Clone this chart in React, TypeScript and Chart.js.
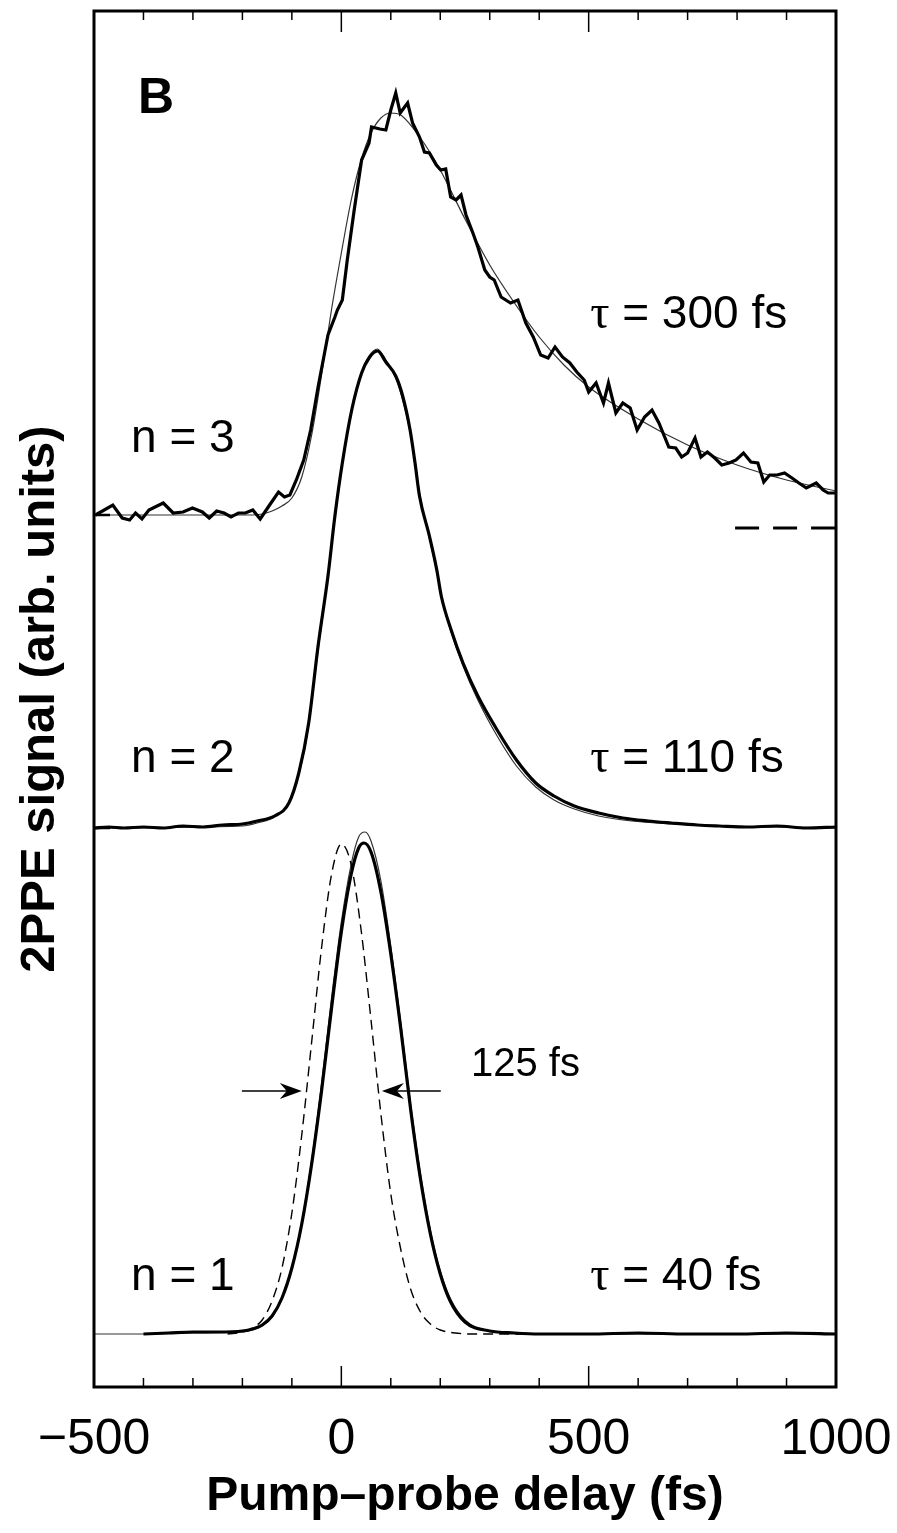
import React, { useEffect, useRef } from 'react';
import { Chart, registerables } from 'chart.js';

Chart.register(...registerables);

// ---- axis ----
const X_MIN = -500;
const X_MAX = 1000;
const Y_MIN = 0;
const Y_MAX = 13.76;
const xTickLabels: Record<number, string> = { [-500]: '\u2212500', 0: '0', 500: '500', 1000: '1000' };
const minorTicks = [-400, -300, -200, -100, 100, 200, 300, 400, 600, 700, 800, 900];
const majorTicks = [0, 500];

// ---- vertical offsets of the three traces (arb. units) ----
const baseN1 = 0.53;
const baseN2 = 5.59;
const baseN3 = 8.72;
const zeroLineN3: [number, number][] = [[796, 8.59], [1000, 8.59]];

// ---- n = 1 (delay fs, signal) ----
const n1Data: [number, number][] = [
  [-400, 0.0], [-350, 0.01], [-300, 0.02], [-250, 0.02], [-200, 0.03], [-180, 0.05], [-160, 0.09],
  [-140, 0.18], [-120, 0.36], [-100, 0.66], [-80, 1.1], [-60, 1.7], [-40, 2.43], [-20, 3.25],
  [0, 4.02], [20, 4.6], [35, 4.86], [46, 4.91], [60, 4.82], [80, 4.42], [100, 3.8], [120, 3.06],
  [140, 2.25], [160, 1.55], [180, 1.0], [200, 0.6], [220, 0.33], [250, 0.12], [300, 0.03],
  [350, 0.01], [400, 0.0], [500, 0.0], [600, 0.01], [700, 0.0], [800, 0.0], [900, 0.01], [1000, 0.0],
];
const n1Fit: [number, number][] = [
  [-500, 0.0], [-400, 0.0], [-300, 0.01], [-200, 0.02], [-180, 0.04], [-160, 0.08], [-140, 0.17],
  [-120, 0.35], [-100, 0.66], [-80, 1.12], [-60, 1.74], [-40, 2.5], [-20, 3.35], [0, 4.12],
  [20, 4.7], [35, 4.97], [48, 5.02], [60, 4.93], [80, 4.53], [100, 3.88], [120, 3.12], [140, 2.3],
  [160, 1.6], [180, 1.04], [200, 0.63], [220, 0.36], [250, 0.14], [300, 0.03], [350, 0.01],
  [400, 0.0], [1000, 0.0],
];
const n1CrossCorr: [number, number][] = [
  [-230, 0.0], [-200, 0.02], [-180, 0.06], [-160, 0.14], [-140, 0.33], [-120, 0.66],
  [-100, 1.21], [-80, 1.99], [-60, 2.92], [-40, 3.86], [-20, 4.59], [0, 4.9], [20, 4.69],
  [40, 4.04], [60, 3.14], [80, 2.2], [100, 1.4], [120, 0.85], [140, 0.45], [160, 0.22],
  [180, 0.1], [200, 0.04], [230, 0.01], [260, 0.0], [400, 0.0],
];

// ---- n = 2 ----
const n2Data: [number, number][] = [
  [-500, 0.0], [-470, 0.01], [-440, 0.0], [-400, 0.01], [-360, 0.0], [-320, 0.02], [-280, 0.01],
  [-240, 0.03], [-200, 0.04], [-170, 0.07], [-135, 0.12], [-106, 0.25], [-86, 0.55], [-66, 1.05],
  [-47, 1.82], [-27, 2.52], [-13, 3.12], [2, 3.65], [21, 4.18], [41, 4.55], [56, 4.7], [73, 4.77],
  [90, 4.66], [110, 4.52], [124, 4.32], [139, 3.98], [149, 3.65], [158, 3.32], [178, 2.92],
  [193, 2.58], [202, 2.32], [222, 1.98], [246, 1.65], [276, 1.32], [315, 0.98], [354, 0.68],
  [393, 0.45], [430, 0.32], [471, 0.22], [520, 0.15], [569, 0.1], [620, 0.07], [667, 0.05],
  [720, 0.03], [764, 0.02], [820, 0.01], [880, 0.02], [940, 0.0], [1000, 0.01],
];
const n2Fit: [number, number][] = [
  [-500, 0.0], [-200, 0.02], [-170, 0.05], [-135, 0.11], [-106, 0.25], [-86, 0.53], [-66, 1.03],
  [-47, 1.78], [-27, 2.52], [-13, 3.1], [2, 3.65], [21, 4.18], [41, 4.56], [56, 4.72], [73, 4.79],
  [90, 4.68], [110, 4.5], [124, 4.28], [139, 3.96], [149, 3.65], [158, 3.35], [178, 2.9],
  [193, 2.56], [202, 2.32], [222, 1.96], [246, 1.62], [276, 1.28], [315, 0.92], [354, 0.62],
  [393, 0.41], [430, 0.28], [471, 0.19], [520, 0.12], [569, 0.08], [667, 0.04], [764, 0.02],
  [880, 0.01], [1000, 0.0],
];

// ---- n = 3 ----
const n3Data: [number, number][] = [
  [-497, 0.0], [-462, 0.1], [-443, -0.03], [-428, -0.05], [-416, 0.02], [-403, -0.04], [-389, 0.05],
  [-360, 0.12], [-340, 0.02], [-320, 0.03], [-301, 0.07], [-281, 0.03], [-267, -0.03], [-252, 0.04],
  [-237, 0.02], [-223, -0.02], [-208, 0.02], [-194, 0.02], [-179, 0.05], [-164, -0.04], [-145, 0.1],
  [-127, 0.23], [-115, 0.18], [-104, 0.2], [-91, 0.35], [-76, 0.55], [-62, 0.85], [-47, 1.28],
  [-27, 1.8], [-13, 1.98], [-8, 2.05], [2, 2.15], [12, 2.55], [26, 3.05], [41, 3.55], [56, 3.72],
  [61, 3.88], [78, 3.86], [90, 3.85], [100, 4.05], [110, 4.22], [119, 4.02], [134, 4.12],
  [144, 3.92], [158, 3.78], [168, 3.63], [178, 3.62], [192, 3.5], [201, 3.45], [211, 3.46],
  [221, 3.18], [232, 3.15], [242, 3.2], [252, 3.0], [266, 2.82], [276, 2.68], [290, 2.45],
  [300, 2.38], [309, 2.35], [323, 2.18], [342, 2.12], [357, 2.15], [373, 1.92], [388, 1.78],
  [403, 1.6], [418, 1.57], [432, 1.68], [447, 1.58], [462, 1.52], [476, 1.43], [491, 1.35],
  [500, 1.23], [515, 1.32], [530, 1.12], [540, 1.32], [555, 1.02], [569, 1.12], [584, 1.07],
  [598, 0.85], [613, 0.98], [628, 1.05], [642, 0.92], [662, 0.68], [676, 0.67], [688, 0.58],
  [700, 0.62], [715, 0.77], [727, 0.58], [740, 0.63], [755, 0.57], [769, 0.5], [784, 0.52],
  [798, 0.55], [813, 0.62], [828, 0.53], [842, 0.52], [854, 0.33], [866, 0.4], [881, 0.4],
  [896, 0.42], [911, 0.37], [925, 0.32], [940, 0.27], [960, 0.32], [974, 0.25], [984, 0.22],
  [994, 0.22], [1000, 0.22],
];
const n3Fit: [number, number][] = [
  [-500, 0.0], [-200, 0.0], [-180, 0.0], [-160, 0.01], [-140, 0.04], [-120, 0.09], [-100, 0.17],
  [-80, 0.38], [-60, 0.8], [-40, 1.4], [-20, 2.05], [0, 2.62], [20, 3.15], [40, 3.55], [60, 3.82],
  [80, 3.97], [100, 4.02], [120, 4.0], [140, 3.9], [160, 3.77], [180, 3.62], [200, 3.45],
  [250, 2.96], [300, 2.5], [350, 2.12], [400, 1.78], [450, 1.5], [500, 1.28], [600, 0.96],
  [700, 0.7], [800, 0.5], [900, 0.35], [1000, 0.24],
];

// ---- annotations (data coordinates) ----
const fwhmArrows = [
  { from: -201, to: -80, level: 2.96 },
  { from: 201, to: 82, level: 2.96 },
];
const textLabels = [
  { text: 'B', x: -411, y: 12.74, size: 50, bold: true },
  { text: 'n = 3', x: -425, y: 9.35, size: 46 },
  { text: 'n = 2', x: -425, y: 6.15, size: 46 },
  { text: 'n = 1', x: -425, y: 0.97, size: 46 },
  { text: '125 fs', x: 262, y: 3.11, size: 40 },
];
const tauLabels = [
  { value: ' = 300 fs', x: 503, y: 10.59 },
  { value: ' = 110 fs', x: 503, y: 6.15 },
  { value: ' = 40 fs', x: 503, y: 0.97 },
];

const SANS = "'Liberation Sans', Arial, Helvetica, sans-serif";
const SERIF = "'Liberation Serif', 'DejaVu Serif', serif";

const shift = (pts: [number, number][], base: number) => pts.map(([x, y]) => ({ x, y: y + base }));

const decorPlugin = {
  id: 'decor',
  afterDraw(chart: any) {
    const { ctx, chartArea: a } = chart;
    const xs = chart.scales.x;
    const ys = chart.scales.y;
    const line = (x1: number, y1: number, x2: number, y2: number) => {
      ctx.beginPath();
      ctx.moveTo(x1, y1);
      ctx.lineTo(x2, y2);
      ctx.stroke();
    };
    ctx.save();
    ctx.strokeStyle = '#000';
    ctx.fillStyle = '#000';
    ctx.lineCap = 'butt';
    // inward ticks
    ctx.lineWidth = 1.5;
    for (const v of minorTicks) {
      const px = xs.getPixelForValue(v);
      line(px, a.top, px, a.top + 9);
      line(px, a.bottom, px, a.bottom - 9);
    }
    for (const v of majorTicks) {
      const px = xs.getPixelForValue(v);
      line(px, a.top, px, a.top + 21);
      line(px, a.bottom, px, a.bottom - 21);
    }
    // zero marks on left axis
    ctx.lineWidth = 2.5;
    for (const b of [baseN2, baseN3]) {
      const py = ys.getPixelForValue(b);
      line(a.left, py, a.left + 16, py);
    }
    // frame
    ctx.lineWidth = 3;
    ctx.strokeRect(a.left, a.top, a.right - a.left, a.bottom - a.top);

    // FWHM arrows
    ctx.lineWidth = 1.5;
    for (const ar of fwhmArrows) {
      const x1 = xs.getPixelForValue(ar.from);
      const x2 = xs.getPixelForValue(ar.to);
      const py = ys.getPixelForValue(ar.level);
      const dir = Math.sign(x2 - x1);
      line(x1, py, x2 - dir * 6, py);
      ctx.beginPath();
      ctx.moveTo(x2, py);
      ctx.lineTo(x2 - dir * 22, py - 8);
      ctx.lineTo(x2 - dir * 15, py);
      ctx.lineTo(x2 - dir * 22, py + 8);
      ctx.closePath();
      ctx.fill();
    }

    // text labels
    ctx.textBaseline = 'alphabetic';
    ctx.textAlign = 'left';
    for (const t of textLabels) {
      ctx.font = `${t.bold ? 'bold ' : ''}${t.size}px ${SANS}`;
      ctx.fillText(t.text, xs.getPixelForValue(t.x), ys.getPixelForValue(t.y));
    }
    for (const t of tauLabels) {
      const px = xs.getPixelForValue(t.x);
      const py = ys.getPixelForValue(t.y);
      ctx.font = `48px ${SERIF}`;
      ctx.fillText('\u03C4', px, py);
      const w = ctx.measureText('\u03C4').width;
      ctx.font = `46px ${SANS}`;
      ctx.fillText(t.value, px + w, py);
    }
    ctx.restore();
  },
};

export default function App() {
  const canvasRef = useRef<HTMLCanvasElement | null>(null);

  useEffect(() => {
    if (!canvasRef.current) return;
    const thick = { borderColor: '#000', borderWidth: 3.2, pointRadius: 0, fill: false };
    const thin = { borderColor: '#333', borderWidth: 1.2, pointRadius: 0, fill: false };
    const chart = new Chart(canvasRef.current, {
      type: 'line',
      data: {
        datasets: [
          { ...thick, data: shift(n3Data, baseN3), tension: 0 },
          { ...thin, data: shift(n3Fit, baseN3), cubicInterpolationMode: 'monotone' },
          { borderColor: '#000', borderWidth: 3, pointRadius: 0, borderDash: [24, 14], data: zeroLineN3.map(([x, y]) => ({ x, y })) },
          { ...thick, data: shift(n2Data, baseN2), cubicInterpolationMode: 'monotone' },
          { ...thin, data: shift(n2Fit, baseN2), cubicInterpolationMode: 'monotone' },
          { borderColor: '#000', borderWidth: 1.4, pointRadius: 0, borderDash: [10, 6], data: shift(n1CrossCorr, baseN1), cubicInterpolationMode: 'monotone' },
          { ...thick, data: shift(n1Data, baseN1), cubicInterpolationMode: 'monotone' },
          { ...thin, data: shift(n1Fit, baseN1), cubicInterpolationMode: 'monotone' },
        ] as any,
      },
      options: {
        animation: false,
        responsive: false,
        events: [],
        parsing: false as any,
        layout: { padding: { top: 11, right: 61, bottom: 0, left: 0 } },
        plugins: { legend: { display: false }, tooltip: { enabled: false } },
        scales: {
          x: {
            type: 'linear',
            position: 'bottom',
            min: X_MIN,
            max: X_MAX,
            afterBuildTicks: (s: any) => {
              s.ticks = Object.keys(xTickLabels).map((k) => ({ value: Number(k) }));
            },
            afterFit: (s: any) => {
              s.height = 146;
            },
            grid: { display: false, drawTicks: false },
            border: { display: false },
            ticks: {
              autoSkip: false,
              maxRotation: 0,
              padding: 23,
              color: '#000',
              font: { family: SANS, size: 50 },
              callback: (v: any) => xTickLabels[Number(v)] ?? '',
            },
            title: {
              display: true,
              text: 'Pump\u2013probe delay (fs)',
              color: '#000',
              font: { family: SANS, size: 48, weight: 'bold' },
              padding: { top: 0, bottom: 7 },
            },
          },
          y: {
            type: 'linear',
            position: 'left',
            min: Y_MIN,
            max: Y_MAX,
            afterFit: (s: any) => {
              s.width = 94;
            },
            grid: { display: false, drawTicks: false },
            border: { display: false },
            ticks: { display: false },
            title: {
              display: true,
              text: '2PPE signal (arb. units)',
              color: '#000',
              font: { family: SANS, size: 49, weight: 'bold' },
              padding: { top: 11, bottom: 0 },
            },
          },
        },
      } as any,
      plugins: [decorPlugin],
    });
    return () => chart.destroy();
  }, []);

  return (
    <div style={{ position: 'absolute', left: 0, top: 0, width: 897, height: 1533, background: '#fff' }}>
      <canvas ref={canvasRef} width={897} height={1533} style={{ display: 'block' }} />
    </div>
  );
}
